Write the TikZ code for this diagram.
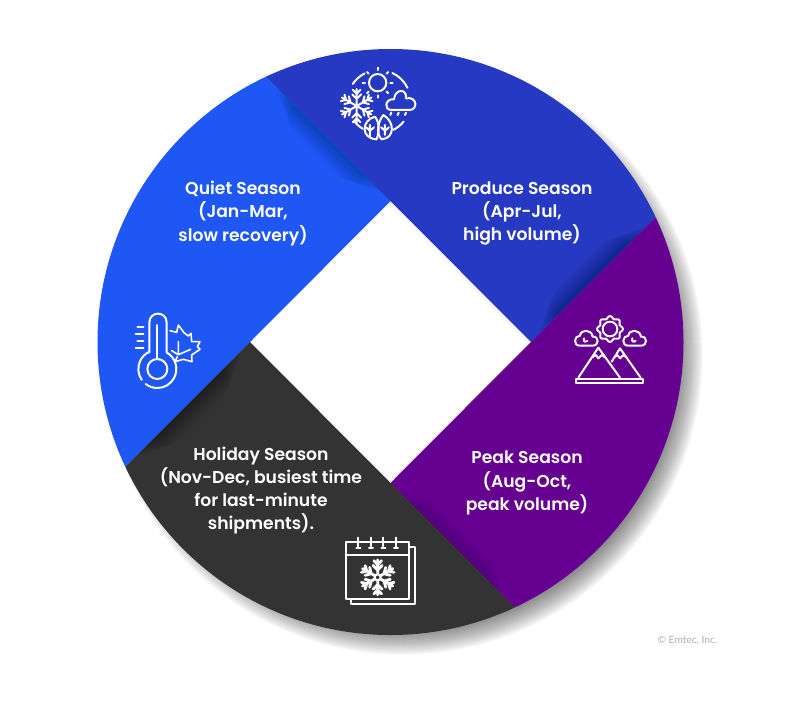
\documentclass[tikz,border=0pt]{standalone}
\usepackage{fontspec}
\newfontfamily\labelfont{Poppins}[UprightFont=* SemiBold]
\newfontfamily\creditfont{Lato}
\definecolor{quietblue}{HTML}{1F57F5}
\definecolor{produceblue}{HTML}{2639C3}
\definecolor{peakpurple}{HTML}{660091}
\definecolor{holidaygrey}{HTML}{333333}
\tikzset{
    seasonlabel/.style={text=white,align=center,font=\labelfont\fontsize{17.2}{23.3}\selectfont},
    iconline/.style={draw=white,line width=2pt,line cap=round,line join=round},
    zoomed/.style={x=0.3333pt,y=-0.3333pt}
}
% one wedge of the wheel, with the soft shadow along its upper neighbour
\newcommand{\seasonwedge}[5]{
    \fill[#2] #1;
    \begin{scope}
        \clip #1;
        \foreach \w [evaluate=\w as \cut using 1.2*\w+10] in {2,4,...,40}
            \draw[black,opacity=#5,line width=\w pt,line cap=round,shorten <=\cut pt,shorten >=\cut pt] (#3) -- (#4);
    \end{scope}
}
\newcommand{\flakeicon}[3]{
    \foreach \a in {30,90,...,330} {
        \begin{scope}[shift={(#1,#2)},rotate=\a,x=#3pt,y=#3pt]
            \draw[iconline] (0,0) -- (1,0) (0.42,0) -- (0.68,0.26) (0.42,0) -- (0.68,-0.26) (0.72,0) -- (0.95,0.22) (0.72,0) -- (0.95,-0.22);
        \end{scope}
    }
}
\begin{document}
\begin{tikzpicture}[x=1pt,y=-1pt]
    \useasboundingbox (0,0) rectangle (800,702);
    \coordinate (hub) at (390.5,342);
    \coordinate (diaT) at (390.5,201);
    \coordinate (diaR) at (531,342);
    \coordinate (diaB) at (390.5,483);
    \coordinate (diaL) at (250,342);
    \coordinate (rimT) at (268,78);
    \coordinate (rimR) at (655,218);
    \coordinate (rimB) at (513,606);
    \coordinate (rimL) at (126,466);
    \coordinate (outT) at (190.5,1);
    \coordinate (outR) at (731,142);
    \coordinate (outB) at (590.5,683);
    \coordinate (outL) at (50,542);

    % drop shadow
    \foreach \r in {276,277,...,300}
        \fill[black,opacity=0.022] (403,355) circle (\r);

    \begin{scope}
        \clip (hub) circle (293);
        \fill[white] (diaT) -- (diaR) -- (diaB) -- (diaL) -- cycle;
        \seasonwedge{(diaT) -- (outT) -- (-100,1) -- (-100,542) -- (outL) -- (diaL) -- cycle}{quietblue}{diaT}{rimT}{0.012}
        \seasonwedge{(diaT) -- (outT) -- (190,-100) -- (800,-100) -- (outR) -- (diaR) -- cycle}{produceblue}{diaR}{rimR}{0.012}
        \seasonwedge{(diaR) -- (outR) -- (900,142) -- (900,800) -- (outB) -- (diaB) -- cycle}{peakpurple}{diaB}{rimB}{0.005}
        \seasonwedge{(diaB) -- (outB) -- (590,800) -- (-100,800) -- (outL) -- (diaL) -- cycle}{holidaygrey}{diaL}{rimL}{0.005}
    \end{scope}

    \node[seasonlabel] (quiet) at (243,213.5) {Quiet Season\\(Jan-Mar,\\slow recovery)};
    \node[seasonlabel] (produce) at (522,213.5) {Produce Season\\(Apr-Jul,\\high volume)};
    \node[seasonlabel] (peak) at (527,483) {Peak Season\\(Aug-Oct,\\peak volume)};
    \node[seasonlabel] (holiday) at (261,490.5) {Holiday Season\\(Nov-Dec, busiest time\\for last-minute\\shipments).};
    \node[text=black!32,font=\creditfont\fontsize{10.2}{11}\selectfont] (credit) at (687.5,640) {© Emtec, Inc.};

    % four seasons icon
    \begin{scope}[shift={(320,60)},zoomed]
        \draw[iconline] (173,68) circle (26);
        \foreach \a in {0,45,...,315}
            \draw[iconline] (173,68) ++(\a:38) -- ++(\a:7);
        \draw[iconline] (177,125) ++(214:95) arc (214:243:95);
        \draw[iconline] (177,125) ++(295:95) arc (295:334:95);
        \draw[iconline] (177,125) ++(39:95) arc (39:63:95);
        \draw[iconline] (177,125) ++(121:95) arc (121:142:95);
        \flakeicon{110}{138}{17}
        \draw[iconline] (215,150) .. controls (190,150) and (195,115) .. (222,118) .. controls (225,85) and (262,85) .. (258,115) .. controls (292,108) and (295,150) .. (268,150) -- cycle;
        \foreach \x in {214,236,258}
            \draw[iconline] (\x,158) -- ++(-3,7);
        \draw[iconline] (165,170) .. controls (125,180) and (120,235) .. (170,238) .. controls (178,215) and (180,190) .. (165,170);
        \draw[iconline] (150,232) -- (150,195) (150,212) -- (138,202) (150,212) -- (162,202);
        \draw[iconline] (190,165) .. controls (170,190) and (170,225) .. (185,238) .. controls (225,235) and (225,185) .. (190,165);
        \draw[iconline] (195,225) -- (195,195) (195,212) -- (183,202) (195,212) -- (207,202);
    \end{scope}

    % thermometer icon
    \begin{scope}[shift={(120,300)},zoomed]
        \draw[iconline] (88,157) -- (88,68) .. controls (88,32) and (140,32) .. (140,68) -- (140,157);
        \draw[iconline] (112,207) ++(-61:57) arc (-61:128:57);
        \draw[iconline] (112,207) ++(145:57) arc (145:245:57);
        \draw[iconline] (112,207) circle (30);
        \draw[iconline] (112,75) -- (112,177);
        \foreach \x/\y in {52/80,47/102,52/122,47/145}
            \draw[iconline] (\x,\y) -- (70,\y);
        \draw[iconline,line width=1.6pt] (150,92) -- (170,97) -- (175,75) -- (192,98) -- (205,108) -- (213,100) -- (215,125) -- (240,125) -- (232,140) -- (240,148) -- (215,165) -- (216,185) -- (190,178) -- (165,185) -- (172,170);
        \draw[iconline,line width=1.6pt] (175,125) -- (175,164) (155,152) -- (175,164) -- (212,148);
    \end{scope}

    % mountain icon
    \begin{scope}[shift={(560,305)},zoomed]
        \draw[iconline] plot[domain=0:360,samples=145,smooth] ({150+(35+3.5*cos(8*\x))*cos(\x)},{72+(35+3.5*cos(8*\x))*sin(\x)}) -- cycle;
        \draw[iconline] (150,72) circle (22);
        \foreach \dx in {0,145} {
            \begin{scope}[xshift=\dx*0.3333pt]
                \draw[iconline] (60,122) .. controls (38,122) and (42,92) .. (60,92) .. controls (62,72) and (95,72) .. (98,95) .. controls (118,93) and (118,122) .. (98,122) -- cycle;
                \draw[iconline] (72,100) .. controls (68,112) and (80,112) .. (82,108);
            \end{scope}
        }
        \draw[iconline] (55,218) -- (115,128) -- (180,218);
        \draw[iconline] (155,170) -- (180,130) -- (242,218);
        \draw[iconline] (97,157) -- (108,150) -- (115,160) -- (125,150) -- (135,157);
        \draw[iconline] (163,157) -- (172,150) -- (180,160) -- (190,150) -- (200,157);
        \draw[iconline] (48,222) rectangle (250,235);
    \end{scope}

    % calendar icon
    \begin{scope}[shift={(330,525)},zoomed]
        \draw[iconline] (47,52) rectangle (238,222);
        \draw[iconline] (47,90) -- (238,90);
        \draw[iconline] (238,65) -- (255,65) -- (255,238) -- (62,238) -- (62,222);
        \foreach \x in {85,123,160,198}
            \draw[iconline] (\x,38) -- (\x,68) (\x-6,68) -- (\x+6,68);
        \begin{scope}[iconline/.append style={line width=2.8pt}]
            \flakeicon{143}{157}{17.5}
        \end{scope}
        \draw[iconline,fill=holidaygrey] (143,157) circle (9);
    \end{scope}
\end{tikzpicture}
\end{document}
